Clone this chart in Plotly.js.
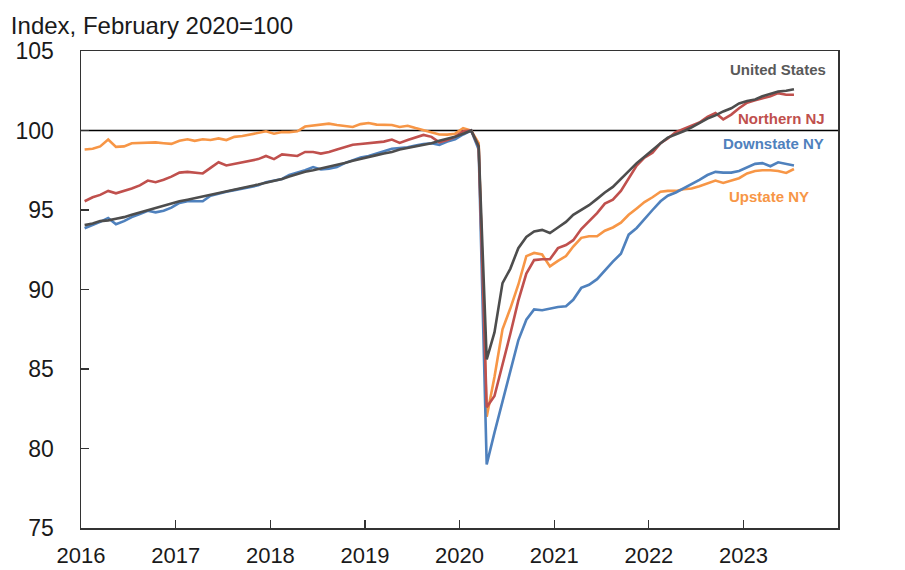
<!DOCTYPE html>
<html>
<head>
<meta charset="utf-8">
<script src="https://cdn.plot.ly/plotly-3.0.1.min.js"></script>
<style>
  html, body { margin: 0; padding: 0; background: #ffffff; }
  #chart { width: 905px; height: 570px; }
</style>
</head>
<body>
<div id="chart"></div>
<script>
// Monthly, January 2016 through July 2023 (index, February 2020 = 100)
const startYear = 2016;
const nMonths = 91;

const unitedStates = [
  94.05, 94.15, 94.3, 94.35, 94.45, 94.55, 94.7, 94.85, 95.0, 95.1, 95.25, 95.4,
  95.55, 95.65, 95.75, 95.85, 96.0, 96.1, 96.2, 96.3, 96.4, 96.5, 96.6, 96.7,
  96.85, 96.95, 97.1, 97.25, 97.4, 97.5, 97.6, 97.75, 97.85, 97.95, 98.1, 98.2,
  98.35, 98.45, 98.55, 98.65, 98.8, 98.9, 99.0, 99.1, 99.2, 99.35, 99.5, 99.6,
  99.8, 100.0, 99.0, 85.6, 87.3, 90.4, 91.3, 92.6, 93.3, 93.65, 93.75, 93.55,
  93.9, 94.25, 94.7, 95.0, 95.3, 95.7, 96.1, 96.45, 96.95, 97.5, 97.95, 98.35,
  98.8, 99.2, 99.55, 99.75, 99.95, 100.2, 100.45, 100.75, 100.95, 101.2, 101.4, 101.7,
  101.85, 101.95, 102.15, 102.3, 102.45, 102.5, 102.6
];

const northernNJ = [
  95.55, 95.8, 95.95, 96.2, 96.05, 96.2, 96.35, 96.55, 96.85, 96.75, 96.9, 97.1,
  97.35, 97.4, 97.35, 97.3, 97.65, 98.0, 97.8, 97.9, 98.0, 98.1, 98.2, 98.4,
  98.2, 98.5, 98.45, 98.4, 98.65, 98.65, 98.55, 98.65, 98.8, 98.95, 99.1, 99.15,
  99.2, 99.25, 99.3, 99.43, 99.22, 99.4, 99.55, 99.72, 99.6, 99.25, 99.4, 99.6,
  99.95, 100.0, 99.0, 82.6, 83.3, 85.2, 87.2, 89.3, 91.0, 91.85, 91.9, 91.9,
  92.6, 92.8, 93.1, 93.8, 94.3, 94.8, 95.4, 95.65, 96.2, 97.0, 97.8, 98.3,
  98.6, 99.2, 99.5, 99.9, 100.1, 100.3, 100.5, 100.85, 101.1, 100.7, 101.0, 101.4,
  101.75, 101.9, 102.0, 102.15, 102.35, 102.25, 102.25
];

const downstateNY = [
  93.85, 94.05, 94.25, 94.5, 94.1, 94.3, 94.55, 94.75, 94.95, 94.85, 94.95, 95.15,
  95.45, 95.55, 95.55, 95.55, 95.9, 96.05, 96.15, 96.25, 96.35, 96.45, 96.55, 96.75,
  96.85, 96.95, 97.2, 97.35, 97.5, 97.7, 97.55, 97.6, 97.7, 97.95, 98.15, 98.3,
  98.4, 98.55, 98.7, 98.85, 98.9, 98.95, 99.05, 99.15, 99.2, 99.1, 99.3, 99.45,
  99.75, 100.0, 98.8, 79.0, 81.0, 82.9, 84.8, 86.8, 88.1, 88.75, 88.7, 88.8,
  88.9, 88.95, 89.35, 90.1, 90.3, 90.65, 91.2, 91.75, 92.25, 93.45, 93.87, 94.45,
  95.0, 95.55, 95.9, 96.1, 96.35, 96.6, 96.9, 97.2, 97.4, 97.35, 97.35, 97.45,
  97.7, 97.9, 97.95, 97.75, 98.0, 97.9, 97.8
];

const upstateNY = [
  98.8, 98.85, 99.0, 99.43, 98.97, 99.0, 99.2, 99.22, 99.22, 99.25, 99.2, 99.16,
  99.35, 99.45, 99.35, 99.45, 99.4, 99.5, 99.4, 99.6, 99.65, 99.74, 99.85, 99.95,
  99.8, 99.9, 99.9, 99.95, 100.25, 100.3, 100.35, 100.43, 100.35, 100.28, 100.22, 100.4,
  100.47, 100.37, 100.37, 100.35, 100.22, 100.3, 100.15, 100.0, 99.85, 99.75, 99.74, 99.8,
  100.15, 100.0, 99.2, 82.0, 84.5, 87.5, 88.8, 90.3, 92.1, 92.3, 92.2, 91.45,
  91.8, 92.1, 92.7, 93.25, 93.35, 93.35, 93.7, 93.9, 94.2, 94.7, 95.1, 95.5,
  95.8, 96.15, 96.2, 96.2, 96.3, 96.35, 96.5, 96.65, 96.85, 96.7, 96.85, 97.0,
  97.3, 97.45, 97.5, 97.5, 97.45, 97.33, 97.58
];

const seriesNames = ["Upstate NY", "Downstate NY", "Northern NJ", "United States"];
const seriesColors = ["#f79646", "#4f81bd", "#c0504d", "#4d4d4d"];
const tickYears = ["2016", "2017", "2018", "2019", "2020", "2021", "2022", "2023"];
const yTicks = [75, 80, 85, 90, 95, 100, 105];

// mid-month dates
const dates = [];
for (let i = 0; i < nMonths; i++) {
  const y = startYear + Math.floor(i / 12);
  const m = (i % 12) + 1;
  dates.push(y + "-" + String(m).padStart(2, "0") + "-15");
}

const values = [upstateNY, downstateNY, northernNJ, unitedStates];
const traces = values.map((v, k) => ({
  type: "scatter",
  mode: "lines",
  x: dates,
  y: v,
  name: seriesNames[k],
  line: { color: seriesColors[k], width: 2.6 },
  hoverinfo: "skip"
}));

const font = "Liberation Sans, Arial, Helvetica, sans-serif";

const layout = {
  width: 905,
  height: 570,
  margin: { l: 81, r: 67, t: 51, b: 42 },
  paper_bgcolor: "#ffffff",
  plot_bgcolor: "#ffffff",
  showlegend: false,
  font: { family: font, color: "#1a1a1a", size: 22 },
  title: {
    text: "Index, February 2020=100",
    font: { family: font, size: 24, color: "#1a1a1a" },
    x: 0.012, xref: "container", xanchor: "left",
    y: 0.955, yref: "container", yanchor: "middle"
  },
  xaxis: {
    type: "date",
    range: ["2016-01-01", "2024-01-01"],
    tickvals: tickYears.map(y => y + "-01-01"),
    ticktext: tickYears,
    ticks: "inside",
    ticklen: 8,
    tickwidth: 1.2,
    tickcolor: "#333333",
    showline: true,
    linecolor: "#333333",
    linewidth: 1.5,
    mirror: true,
    showgrid: false,
    zeroline: false,
    ticklabelstandoff: 7,
    tickfont: { family: font, size: 22, color: "#1a1a1a" }
  },
  yaxis: {
    range: [75, 105],
    tickvals: yTicks,
    ticks: "inside",
    ticklen: 8,
    tickwidth: 1.2,
    tickcolor: "#333333",
    showline: true,
    linecolor: "#333333",
    linewidth: 1.5,
    mirror: true,
    showgrid: false,
    zeroline: false,
    ticklabelstandoff: 21,
    tickfont: { family: font, size: 23, color: "#1a1a1a" }
  },
  yaxis2: {
    range: [75, 105],
    overlaying: "y",
    anchor: "x",
    side: "right",
    tickvals: yTicks,
    ticks: "inside",
    ticklen: 8,
    tickwidth: 1.2,
    tickcolor: "#333333",
    showline: false,
    showgrid: false,
    zeroline: false,
    ticklabelstandoff: 20,
    tickfont: { family: font, size: 23, color: "#1a1a1a" }
  },
  shapes: [{
    type: "line", xref: "paper", x0: 0, x1: 1, yref: "y", y0: 100, y1: 100,
    line: { color: "#000000", width: 1.3 }, layer: "below"
  }],
  annotations: [
    { text: "<b>United States</b>", x: "2023-11-22", y: 103.83, color: "#595959" },
    { text: "<b>Northern NJ</b>", x: "2023-11-20", y: 100.75, color: "#c0504d" },
    { text: "<b>Downstate NY</b>", x: "2023-11-16", y: 99.17, color: "#4f81bd" },
    { text: "<b>Upstate NY</b>", x: "2023-09-20", y: 95.84, color: "#f79646" }
  ].map(a => ({
    text: a.text, x: a.x, y: a.y, xref: "x", yref: "y",
    xanchor: "right", yanchor: "middle", showarrow: false,
    font: { family: font, size: 15, color: a.color }
  }))
};

Plotly.newPlot("chart", traces, layout, { displayModeBar: false, staticPlot: true });
</script>
</body>
</html>
